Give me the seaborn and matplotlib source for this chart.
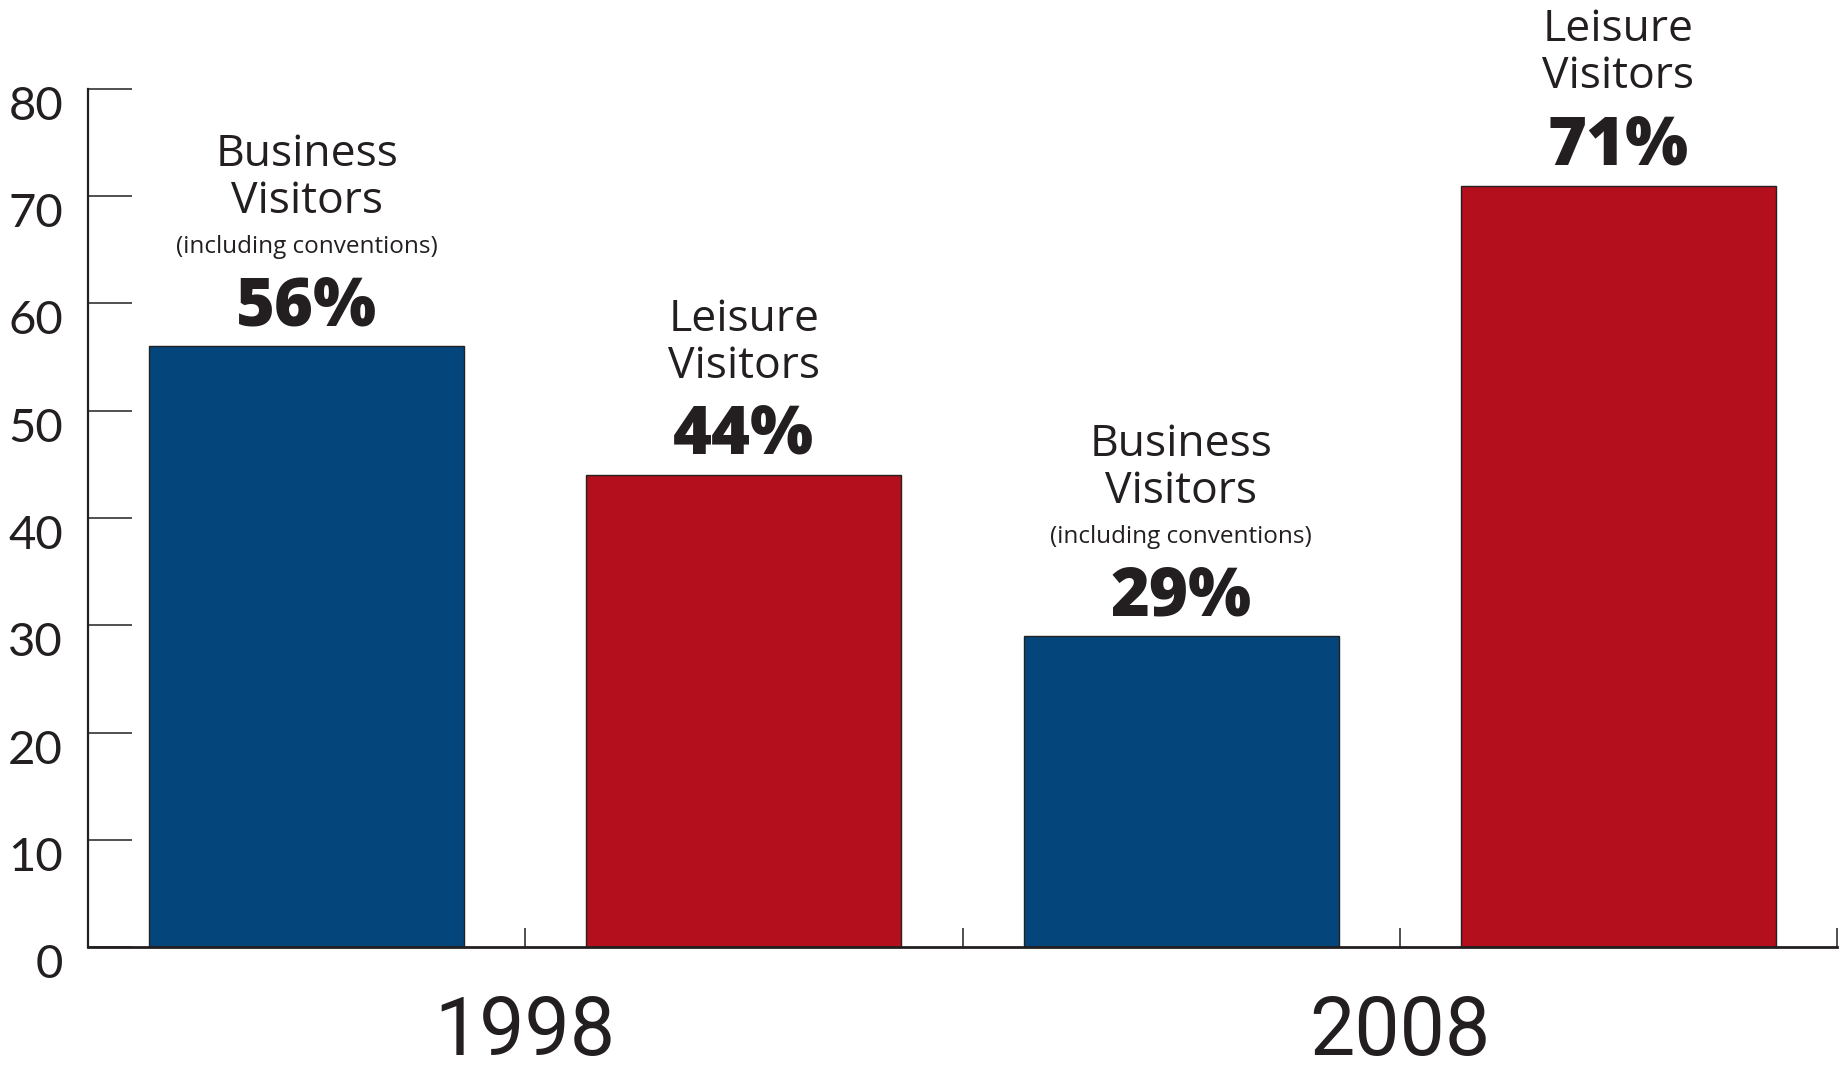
import matplotlib
matplotlib.use("Agg")
import matplotlib.pyplot as plt
import matplotlib.transforms as mtransforms
import seaborn as sns

categories = ["1998 Business", "1998 Leisure", "2008 Business", "2008 Leisure"]
values = [56, 44, 29, 71]
bar_colors = ["#04457C", "#B40F1D", "#04457C", "#B40F1D"]
head_lines = ["Business\nVisitors", "Leisure\nVisitors", "Business\nVisitors", "Leisure\nVisitors"]
sub_lines = ["(including conventions)", "", "(including conventions)", ""]
value_labels = ["56%", "44%", "29%", "71%"]
years = ["1998", "2008"]
y_ticks = [0, 10, 20, 30, 40, 50, 60, 70, 80]

sns.set_theme(style="white")
plt.rcParams["font.family"] = ["Open Sans", "DejaVu Sans"]

fig = plt.figure(figsize=(18.44, 10.70), dpi=100)
ax = fig.add_axes([88 / 1844, 1 - 947 / 1070, (1837 - 88) / 1844, (947 - 89) / 1070])

sns.barplot(x=categories, y=values, hue=categories, palette=bar_colors, legend=False,
            width=0.72, edgecolor="#222222", linewidth=1.0, saturation=1, ax=ax)

ax.set_xlim(-0.5, 3.5)
ax.set_ylim(0, 80)
ax.set_xlabel("")
ax.set_ylabel("")

for s in ["top", "right"]:
    ax.spines[s].set_visible(False)
ax.spines["left"].set_linewidth(1.6)
ax.spines["bottom"].set_linewidth(2.0)
ax.spines["left"].set_color("#231F20")
ax.spines["bottom"].set_color("#231F20")

ax.set_yticks(y_ticks)
ax.set_yticklabels([str(t) for t in y_ticks], fontsize=34, color="#231F20", fontfamily="Lato")
ax.tick_params(axis="y", direction="in", length=32, width=1.1, color="#231F20", pad=18, left=True)
offset = mtransforms.ScaledTranslation(0, -14 / 100, fig.dpi_scale_trans)
for lab in ax.get_yticklabels():
    lab.set_transform(lab.get_transform() + offset)

ax.set_xticks([0.5, 1.5, 2.5, 3.5])
ax.set_xticklabels([years[0], "", years[1], ""], fontsize=58, color="#231F20",
                   fontfamily="Roboto", fontweight="normal")
ax.tick_params(axis="x", direction="in", length=14, width=1.1, color="#231F20", pad=34, bottom=True)

txt = "#231F20"
for i, v in enumerate(values):
    if sub_lines[i]:
        ax.annotate(value_labels[i], xy=(i, v), xytext=(0, 38), textcoords="offset pixels",
                    ha="center", va="center", fontsize=48, fontweight="heavy", color=txt)
        ax.annotate(sub_lines[i], xy=(i, v), xytext=(0, 99), textcoords="offset pixels",
                    ha="center", va="center", fontsize=17.5, color=txt)
        ax.annotate(head_lines[i], xy=(i, v), xytext=(0, 168), textcoords="offset pixels",
                    ha="center", va="center", fontsize=32, color=txt, linespacing=1.08)
    else:
        ax.annotate(value_labels[i], xy=(i, v), xytext=(0, 39), textcoords="offset pixels",
                    ha="center", va="center", fontsize=48, fontweight="heavy", color=txt)
        ax.annotate(head_lines[i], xy=(i, v), xytext=(0, 132), textcoords="offset pixels",
                    ha="center", va="center", fontsize=32, color=txt, linespacing=1.08)

fig.savefig("out.png", dpi=100, facecolor="white")
